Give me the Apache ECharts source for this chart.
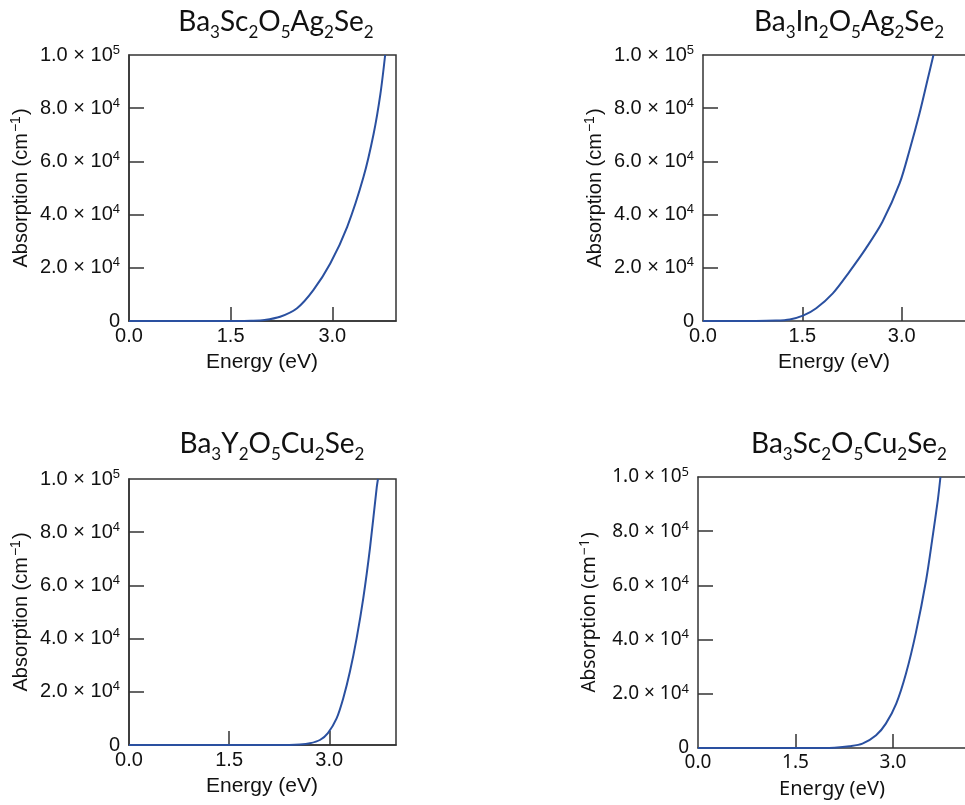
<!DOCTYPE html>
<html><head><meta charset="utf-8">
<script src="https://cdn.jsdelivr.net/npm/echarts@6/dist/echarts.min.js"></script>
<style>html,body{margin:0;padding:0;background:#fff}#c{width:965px;height:805px}</style>
</head><body><div id="c"></div>
<script>
// ---- data ----
const titles = ['Ba3Sc2O5Ag2Se2', 'Ba3In2O5Ag2Se2', 'Ba3Y2O5Cu2Se2', 'Ba3Sc2O5Cu2Se2'];

const energy1 = [0, 1.0, 1.6, 1.8, 2.0, 2.23, 2.48, 2.72, 2.97, 3.22, 3.46, 3.61, 3.71, 3.78];
const absorb1 = [0, 0, 0, 100, 400, 1600, 4800, 11600, 21600, 35400, 54100, 70400, 85400, 100000];

const energy2 = [0, 0.8, 1.1, 1.31, 1.51, 1.71, 1.96, 2.21, 2.46, 2.71, 2.97, 3.12, 3.27, 3.39, 3.48];
const absorb2 = [0, 0, 150, 600, 2000, 4800, 10400, 18500, 27300, 37300, 51800, 64300, 78100, 90600, 100000];

const energy3 = [0, 2.4, 2.56, 2.71, 2.86, 2.98, 3.11, 3.21, 3.31, 3.41, 3.51, 3.61, 3.71, 3.73];
const absorb3 = [0, 0, 150, 640, 1880, 4500, 10000, 17600, 27600, 40100, 55200, 74000, 96600, 100000];

const energy4 = [0, 1.9, 2.1, 2.33, 2.53, 2.74, 2.89, 3.05, 3.20, 3.35, 3.51, 3.61, 3.69, 3.73];
const absorb4 = [0, 0, 100, 630, 1600, 4700, 9000, 16400, 27500, 42300, 62000, 78000, 91600, 100000];

const xTickLabels = [0, 1.5, 3.0];
const yTickLabels = [0, 20000, 40000, 60000, 80000, 100000];
const xAxisMax = [3.94, 4.5, 4.0, 4.6];
const xAxisTitle = 'Energy (eV)';

// ---- layout / style ----
const energies = [energy1, energy2, energy3, energy4];
const absorbs = [absorb1, absorb2, absorb3, absorb4];
const grids = [
  {left: 129, top: 55, width: 267, height: 266},
  {left: 703, top: 55, width: 298, height: 266},
  {left: 129, top: 479, width: 267, height: 266},
  {left: 698, top: 477, width: 299, height: 271}
];
const boxed = [true, false, true, false];
const fams = ['Liberation Sans', 'Liberation Sans', 'Liberation Sans', 'Noto Sans'];
const fsz = [20, 20, 20, 19];
const nameSz = [21, 21, 21, 20];
const titlePos = [[276, 22], [849, 22], [272, 444], [849, 444]];
const xNameCentres = [262, 834, 262, 832];
const axisCol = '#333';
const textCol = '#111';
const lineCol = '#2a50a0';

function yFmt(v) {
  if (v === 0) return '0';
  const e = Math.floor(Math.log10(v) + 1e-9);
  const m = (v / Math.pow(10, e)).toFixed(1);
  return '{m|' + m + ' \u00d7 10}{p|' + e + '}';
}
function richTitle(t) {
  return t.replace(/([A-Za-z]+)(\d*)/g, (all, a, d) => '{n|' + a + '}' + (d ? '{s|' + d + '}' : ''));
}

const xAxes = grids.map((g, i) => ({
  gridIndex: i, type: 'value', min: 0, max: xAxisMax[i], interval: 1.5,
  axisLine: {show: true, onZero: false, lineStyle: {color: axisCol, width: 1.5}},
  axisTick: {show: true, inside: true, length: 14, customValues: [1.5, 3.0], lineStyle: {color: axisCol, width: 1.5}},
  axisLabel: {customValues: xTickLabels, formatter: v => v.toFixed(1), fontSize: fsz[i], color: textCol, margin: 5, fontFamily: fams[i]},
  splitLine: {show: false}
}));
// top frame lines for the panels that run off the right edge
grids.forEach((g, i) => {
  if (!boxed[i]) {
    xAxes.push({
      gridIndex: i, type: 'value', position: 'top', min: 0, max: xAxisMax[i], interval: 1.5,
      axisLine: {show: true, onZero: false, lineStyle: {color: axisCol, width: 1.5}},
      axisTick: {show: false}, axisLabel: {show: false}, splitLine: {show: false}
    });
  }
});

const option = {
  backgroundColor: '#fff',
  animation: false,
  grid: grids.map((g, i) => Object.assign({show: boxed[i], borderColor: axisCol, borderWidth: 1.5, outerBoundsMode: 'none', containLabel: false}, g)),
  xAxis: xAxes,
  yAxis: grids.map((g, i) => ({
    gridIndex: i, type: 'value', min: 0, max: 100000, interval: 20000,
    axisLine: {show: true, onZero: false, lineStyle: {color: axisCol, width: 1.5}},
    axisTick: {show: true, inside: true, length: 15, customValues: [20000, 40000, 60000, 80000], lineStyle: {color: axisCol, width: 1.5}},
    axisLabel: {
      customValues: yTickLabels, formatter: yFmt, fontSize: fsz[i], color: textCol, margin: 9, fontFamily: fams[i],
      rich: {
        m: {fontSize: fsz[i], color: textCol, fontFamily: fams[i]},
        p: {fontSize: 13, color: textCol, fontFamily: fams[i], padding: [0, 0, 10, 0]}
      }
    },
    splitLine: {show: false},
    name: '{a|Absorption (cm}{p|\u22121}{a|)}', nameLocation: 'middle', nameGap: 96,
    nameTextStyle: {
      fontSize: nameSz[i] - 1, color: textCol, fontFamily: fams[i],
      rich: {
        a: {fontSize: nameSz[i] - 1, color: textCol, fontFamily: fams[i]},
        p: {fontSize: 14, color: textCol, fontFamily: fams[i], padding: [0, 1, 10, 1]}
      }
    }
  })),
  series: grids.map((g, i) => ({
    type: 'line', xAxisIndex: i, yAxisIndex: i,
    data: energies[i].map((e, k) => [e, absorbs[i][k]]),
    showSymbol: false, smooth: 0.3, silent: true,
    lineStyle: {color: lineCol, width: 2}
  })),
  graphic: titles.map((t, i) => ({
    type: 'text', x: titlePos[i][0], y: titlePos[i][1],
    style: {
      text: richTitle(t), textAlign: 'center', textVerticalAlign: 'middle', fill: '#111',
      rich: {
        n: {fontSize: 28, fontFamily: 'Lato', fill: '#111'},
        s: {fontSize: 17, fontFamily: 'Lato', fill: '#111', padding: [22, 0, 0, 0]}
      }
    }
  })).concat(xNameCentres.map((cx, i) => ({
    type: 'text', x: cx, y: grids[i].top + grids[i].height + 41,
    style: {text: xAxisTitle, textAlign: 'center', textVerticalAlign: 'middle', fill: textCol,
            font: nameSz[i] + 'px "' + fams[i] + '"'}
  })))
};

const chart = echarts.init(document.getElementById('c'), null, {renderer: 'canvas'});
chart.setOption(option);
</script>
</body></html>
